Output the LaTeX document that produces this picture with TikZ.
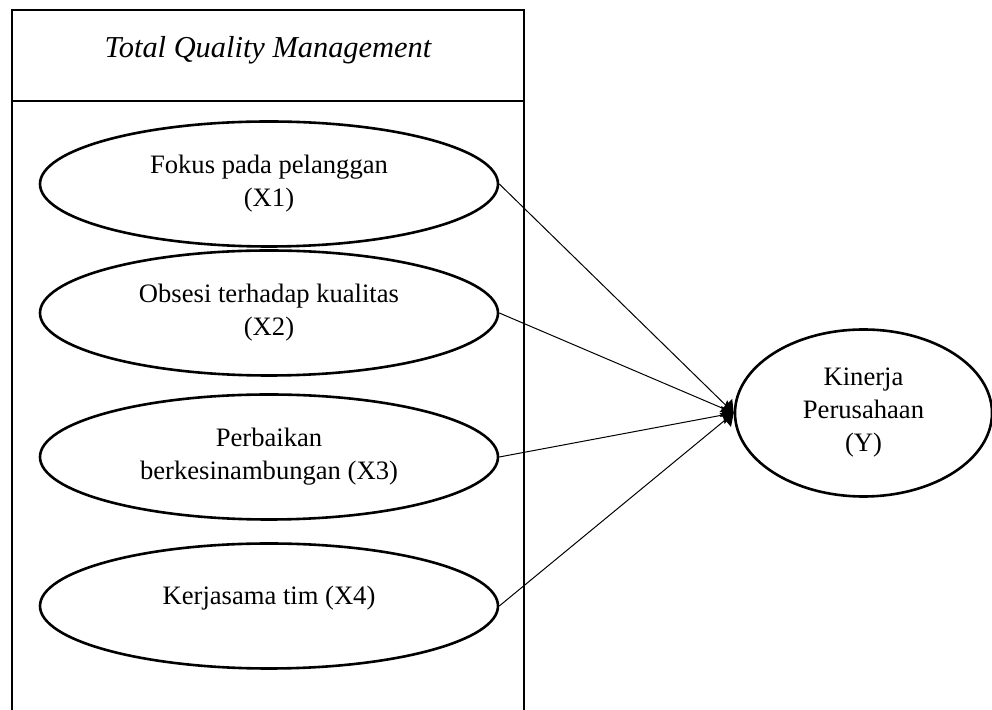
\documentclass[tikz,border=0pt]{standalone}
\usepackage{fontspec}
\setmainfont{Liberation Serif}
\usepackage{tikz}
\usetikzlibrary{arrows.meta, positioning, shapes.geometric}

\begin{document}
\begin{tikzpicture}[x=0.5pt, y=-0.5pt,
			>={Triangle[length=5.5pt, width=9pt]},
			var/.style={ellipse, draw=black, line width=1.3pt, inner sep=0pt,
				minimum width=229pt, minimum height=62.5pt, align=center,
				font=\fontsize{13.3}{16.5}\selectfont},
			link/.style={->, black, line width=0.5pt}]
			
			\useasboundingbox (0,0) rectangle (992,710);
			% kotak TQM
			\draw[line width=1.4pt] (12,712) -- (12,10) -- (524,10) -- (524,712);
			\draw[line width=1.4pt] (12,101) -- (524,101);
			\node (tqm) at (268,50) {\fontsize{15.2}{18}\selectfont\itshape Total Quality Management};
			
			\node[var] (x1) at (269,184) {Fokus pada pelanggan\\(X1)};
			\node[var] (x2) at (269,313) {Obsesi terhadap kualitas\\(X2)};
			\node[var] (x3) at (269,457) {Perbaikan\\berkesinambungan (X3)};
			\node[var, text depth=11pt] (x4) at (269,606) {Kerjasama tim (X4)};
			\node[var, minimum width=128.5pt, minimum height=83.5pt] (y) at (863.5,413) {Kinerja\\Perusahaan\\(Y)};
			
			\draw[link] (x1.east) -- (y.west);
			\draw[link] (x2.east) -- (y.west);
			\draw[link] (x3.east) -- (y.west);
			\draw[link] (x4.east) -- (y.west);
		\end{tikzpicture}
\end{document}
